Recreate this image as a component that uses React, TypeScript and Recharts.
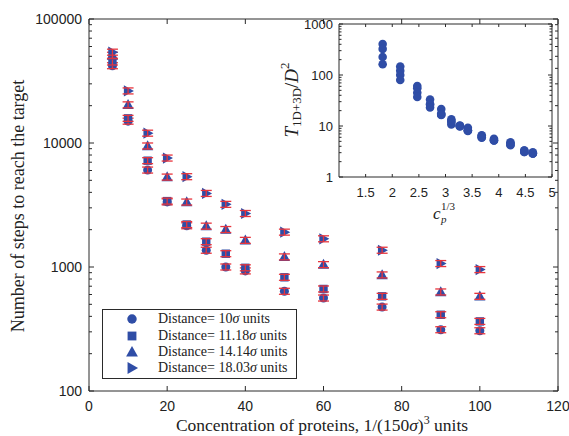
import React from 'react';
import { ScatterChart, Scatter, XAxis, YAxis, CartesianGrid } from 'recharts';

// ---------- data ----------
const concentration = [6, 10, 15, 20, 25, 30, 35, 40, 50, 60, 75, 90, 100];
const stepsD10 = [42000, 15000, 6050, 3350, 2150, 1365, 1000, 930, 637, 562, 475, 312, 306];
const stepsD1118 = [45000, 15800, 7200, 3400, 2200, 1600, 1280, 985, 826, 665, 580, 412, 364];
const stepsD1414 = [51000, 20300, 9460, 5310, 3340, 2135, 2005, 1640, 1206, 1045, 863, 629, 580];
const stepsD1803 = [54000, 26300, 12000, 7560, 5350, 3920, 3200, 2700, 1910, 1688, 1365, 1066, 953];

const cpCubeRoot = [1.82, 2.15, 2.47, 2.71, 2.92, 3.11, 3.27, 3.42, 3.68, 3.91, 4.22, 4.48, 4.64];
const scaledD10 = [405, 146, 61, 33, 21.5, 13.6, 10, 9.2, 6.4, 5.6, 4.8, 3.1, 3.06];
const scaledD1118 = [325, 121, 55, 27, 17.5, 12.5, 10.2, 8, 6.6, 5.3, 4.6, 3.3, 2.9];
const scaledD1414 = [225, 100, 45, 26, 16.7, 10.7, 10, 8.2, 6.0, 5.2, 4.3, 3.1, 2.9];
const scaledD1803 = [163, 80, 37, 23, 16.4, 12, 9.8, 8.3, 5.9, 5.2, 4.2, 3.3, 2.9];

const distanceLabels = ['10', '11.18', '14.14', '18.03'];
const markerKinds = ['circle', 'square', 'triangle', 'triangleRight'];

const mainXTicks = [0, 20, 40, 60, 80, 100, 120];
const mainYDecades = [100, 1000, 10000, 100000];
const insetXTicks = [1.5, 2, 2.5, 3, 3.5, 4, 4.5, 5];
const insetYDecades = [1, 10, 100, 1000];

// ---------- helpers ----------
const logTicks = (decades: number[]) => {
  const out: number[] = [];
  for (let i = 0; i < decades.length - 1; i++) {
    for (let k = 1; k < 10; k++) out.push(decades[i] * k);
  }
  out.push(decades[decades.length - 1]);
  return out;
};

const BLUE = '#2f4da6';
const RED = '#e8343c';
const AXIS = '#2a2a2a';
const SANS = '"Liberation Sans", Arial, sans-serif';
const SERIF = '"Liberation Serif", "Times New Roman", serif';

type Side = 'bottom' | 'left' | 'top' | 'right';
const makeTick = (side: Side, majors: number[], len: number, minorLen: number, label: boolean, offset: number, fontSize: number) =>
  (props: any) => {
    const { x, y, payload } = props;
    const v = payload.value;
    const isMajor = majors.some((m) => Math.abs(m - v) <= 1e-9 * Math.max(1, Math.abs(m)));
    const L = isMajor ? len : minorLen;
    let ln: any = null;
    let tx: any = null;
    const textProps = { fill: '#222', fontSize, fontFamily: SANS, dominantBaseline: 'central' as any };
    if (side === 'bottom') {
      ln = <line x1={x} y1={y} x2={x} y2={y - L} stroke={AXIS} strokeWidth={1} />;
      if (label && isMajor) tx = <text x={x} y={y + offset} textAnchor="middle" {...textProps}>{String(v)}</text>;
    } else if (side === 'top') {
      ln = <line x1={x} y1={y} x2={x} y2={y + L} stroke={AXIS} strokeWidth={1} />;
    } else if (side === 'left') {
      ln = <line x1={x} y1={y} x2={x + L} y2={y} stroke={AXIS} strokeWidth={1} />;
      if (label && isMajor) tx = <text x={x - offset} y={y} textAnchor="end" {...textProps}>{String(v)}</text>;
    } else {
      ln = <line x1={x} y1={y} x2={x - L} y2={y} stroke={AXIS} strokeWidth={1} />;
    }
    return <g>{ln}{tx}</g>;
  };

const MarkerGlyph = ({ kind, cx, cy, s = 1 }: { kind: string; cx: number; cy: number; s?: number }) => {
  if (kind === 'circle') return <circle cx={cx} cy={cy} r={4.5 * s} fill={BLUE} />;
  if (kind === 'square') return <rect x={cx - 4.2 * s} y={cy - 4.2 * s} width={8.4 * s} height={8.4 * s} fill={BLUE} />;
  if (kind === 'triangle')
    return <polygon points={`${cx},${cy - 5.8 * s} ${cx - 5.6 * s},${cy + 4.2 * s} ${cx + 5.6 * s},${cy + 4.2 * s}`} fill={BLUE} />;
  return <polygon points={`${cx + 5.8 * s},${cy} ${cx - 4.2 * s},${cy - 5.6 * s} ${cx - 4.2 * s},${cy + 5.6 * s}`} fill={BLUE} />;
};

const makeMainShape = (kind: string) => (p: any) => {
  const { cx, cy } = p;
  if (cx == null || cy == null) return <g />;
  return (
    <g>
      <MarkerGlyph kind={kind} cx={cx} cy={cy} />
      <g stroke={RED} strokeWidth={1.3}>
        <line x1={cx} y1={cy - 3} x2={cx} y2={cy + 3} />
        <line x1={cx - 5.5} y1={cy - 3} x2={cx + 5.5} y2={cy - 3} />
        <line x1={cx - 5.5} y1={cy + 3} x2={cx + 5.5} y2={cy + 3} />
      </g>
    </g>
  );
};

const insetShape = (p: any) => {
  const { cx, cy } = p;
  if (cx == null || cy == null) return <g />;
  return <circle cx={cx} cy={cy} r={4.3} fill={BLUE} />;
};

const mainSeries = [stepsD10, stepsD1118, stepsD1414, stepsD1803];
const insetSeries = [scaledD10, scaledD1118, scaledD1414, scaledD1803];

export default function App() {
  const mainYTicks = logTicks(mainYDecades);
  const insetYTicks = logTicks(insetYDecades);

  return (
    <div style={{ position: 'absolute', left: 0, top: 0, width: 569, height: 436, background: '#fff', overflow: 'hidden' }}>
      {/* main chart */}
      <div style={{ position: 'absolute', left: 0, top: 0 }}>
        <ScatterChart width={569} height={436} margin={{ top: 18, right: 10, bottom: 44, left: 88 }}>
          <XAxis xAxisId="b" type="number" dataKey="x" domain={[0, 120]} ticks={mainXTicks} interval={0}
            height={1} tickSize={0} tickMargin={0} axisLine={{ stroke: AXIS }} tickLine={false}
            tick={makeTick('bottom', mainXTicks, 5, 3, true, 15, 14)} allowDataOverflow />
          <XAxis xAxisId="t" orientation="top" type="number" dataKey="x" domain={[0, 120]} ticks={mainXTicks} interval={0}
            height={1} tickSize={0} tickMargin={0} axisLine={{ stroke: AXIS }} tickLine={false}
            tick={makeTick('top', mainXTicks, 5, 3, false, 0, 14)} allowDataOverflow />
          <YAxis yAxisId="l" type="number" dataKey="y" scale="log" domain={[100, 100000]} ticks={mainYTicks} interval={0}
            width={1} tickSize={0} tickMargin={0} axisLine={{ stroke: AXIS }} tickLine={false}
            tick={makeTick('left', mainYDecades, 5, 3, true, 7, 14)} allowDataOverflow />
          <YAxis yAxisId="r" orientation="right" type="number" dataKey="y" scale="log" domain={[100, 100000]} ticks={mainYTicks} interval={0}
            width={1} tickSize={0} tickMargin={0} axisLine={{ stroke: AXIS }} tickLine={false}
            tick={makeTick('right', mainYDecades, 5, 3, false, 0, 14)} allowDataOverflow />
          {mainSeries.map((vals, si) => (
            <Scatter key={si} xAxisId="b" yAxisId="l" name={distanceLabels[si]}
              data={concentration.map((x, i) => ({ x, y: vals[i] }))}
              shape={makeMainShape(markerKinds[si])} isAnimationActive={false} />
          ))}
        </ScatterChart>
      </div>

      {/* inset chart */}
      <div style={{ position: 'absolute', left: 290, top: 0 }}>
        <ScatterChart width={279} height={215} margin={{ top: 23, right: 16, bottom: 37, left: 48 }}>
          <CartesianGrid xAxisId="b" yAxisId="l" horizontal={false} vertical={false} fill="#fff" />
          <XAxis xAxisId="b" type="number" dataKey="x" domain={[1, 5]} ticks={insetXTicks} interval={0}
            height={1} tickSize={0} tickMargin={0} axisLine={{ stroke: AXIS }} tickLine={false}
            tick={makeTick('bottom', insetXTicks, 3, 2, true, 15, 13)} allowDataOverflow />
          <XAxis xAxisId="t" orientation="top" type="number" dataKey="x" domain={[1, 5]} ticks={insetXTicks} interval={0}
            height={1} tickSize={0} tickMargin={0} axisLine={{ stroke: AXIS }} tickLine={false}
            tick={makeTick('top', insetXTicks, 3, 2, false, 0, 13)} allowDataOverflow />
          <YAxis yAxisId="l" type="number" dataKey="y" scale="log" domain={[1, 1000]} ticks={insetYTicks} interval={0}
            width={1} tickSize={0} tickMargin={0} axisLine={{ stroke: AXIS }} tickLine={false}
            tick={makeTick('left', insetYDecades, 4, 2.5, true, 6, 13)} allowDataOverflow />
          <YAxis yAxisId="r" orientation="right" type="number" dataKey="y" scale="log" domain={[1, 1000]} ticks={insetYTicks} interval={0}
            width={1} tickSize={0} tickMargin={0} axisLine={{ stroke: AXIS }} tickLine={false}
            tick={makeTick('right', insetYDecades, 4, 2.5, false, 0, 13)} allowDataOverflow />
          {insetSeries.map((vals, si) => (
            <Scatter key={si} xAxisId="b" yAxisId="l" name={distanceLabels[si]}
              data={cpCubeRoot.map((x, i) => ({ x, y: vals[i] }))}
              shape={insetShape} isAnimationActive={false} />
          ))}
        </ScatterChart>
      </div>

      {/* legend */}
      <div style={{ position: 'absolute', left: 102, top: 309, width: 193, height: 68, border: `1.5px solid ${AXIS}`, background: '#fff' }}>
        {distanceLabels.map((d, i) => (
          <div key={i} style={{ position: 'absolute', left: 0, top: 1.3 + i * 16.2, height: 16, width: 193 }}>
            <svg width={40} height={16} style={{ position: 'absolute', left: 9, top: 0 }}>
              <MarkerGlyph kind={markerKinds[i]} cx={20} cy={8} s={1.05} />
            </svg>
            <span style={{ position: 'absolute', left: 55, top: 0, lineHeight: '16px', fontFamily: SERIF, fontSize: 14, color: '#222', whiteSpace: 'nowrap' }}>
              Distance= {d}<i>σ</i> units
            </span>
          </div>
        ))}
      </div>

      {/* axis titles */}
      <svg width={569} height={436} style={{ position: 'absolute', left: 0, top: 0, pointerEvents: 'none' }}>
        <text transform="translate(18,206) rotate(-90)" textAnchor="middle" dominantBaseline="central"
          fontFamily={SERIF} fontSize={18} fill="#222">Number of steps to reach the target</text>
        <text x={322} y={431} textAnchor="middle" fontFamily={SERIF} fontSize={17.5} fill="#222">
          Concentration of proteins, 1/(150<tspan fontStyle="italic">σ</tspan>)<tspan dy={-7} fontSize={12}>3</tspan><tspan dy={7}> units</tspan>
        </text>
        <text transform="translate(291,100) rotate(-90)" textAnchor="middle" dominantBaseline="central"
          fontFamily={SERIF} fontSize={19} fill="#222">
          <tspan fontStyle="italic">T</tspan><tspan dy={5} fontSize={13}>1D+3D</tspan><tspan dy={-5}>/</tspan><tspan fontStyle="italic">D</tspan><tspan dy={-7} fontSize={13}>2</tspan>
        </text>
        <text x={433} y={219} fontFamily={SERIF} fontStyle="italic" fontSize={17} fill="#222">c</text>
        <text x={441} y={223} fontFamily={SERIF} fontStyle="italic" fontSize={11} fill="#222">p</text>
        <text x={441} y={210} fontFamily={SERIF} fontSize={11} fill="#222">1/3</text>
      </svg>
    </div>
  );
}
